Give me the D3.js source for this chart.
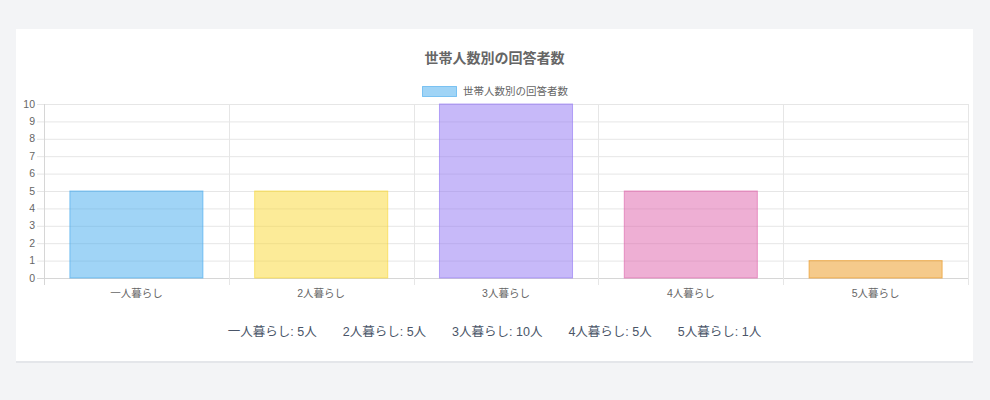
<!DOCTYPE html>
<html>
<head>
<meta charset="utf-8">
<script src="https://cdn.jsdelivr.net/npm/d3@7"></script>
<style>
  html, body { margin: 0; padding: 0; background: #f3f4f6; }
  svg { display: block; font-family: "Liberation Sans", "Noto Sans CJK JP", sans-serif; }
</style>
</head>
<body>
<div id="chart"></div>
<script>
// data
var categories = ["一人暮らし", "2人暮らし", "3人暮らし", "4人暮らし", "5人暮らし"];
var counts = [5, 5, 10, 5, 1];
var yTicks = [0, 1, 2, 3, 4, 5, 6, 7, 8, 9, 10];
var title = "世帯人数別の回答者数";
var unit = "人";

// palette (base colours, drawn at half alpha like the original)
var fills = ["rgb(65,169,237)", "rgb(249,215,49)", "rgb(143,115,243)", "rgb(221,95,169)", "rgb(235,149,23)"];

var width = 990, height = 400;
var plotLeft = 44, plotRight = 968, plotTop = 104, plotBottom = 278;

var svg = d3.select("#chart").append("svg")
  .attr("width", width)
  .attr("height", height);

// card
svg.append("rect")
  .attr("x", 16).attr("y", 30).attr("width", 957).attr("height", 333)
  .attr("fill", "#e4e6ea");
svg.append("rect")
  .attr("x", 16).attr("y", 29).attr("width", 957).attr("height", 332)
  .attr("fill", "#fff");

var x = d3.scaleBand().domain(categories).range([plotLeft, plotRight]).padding(0);
var y = d3.scaleLinear().domain([0, 10]).range([plotBottom, plotTop]);

// horizontal grid + y ticks
svg.append("g").selectAll("line").data(yTicks).enter().append("line")
  .attr("x1", plotLeft - 7).attr("x2", plotRight)
  .attr("y1", function(d){ return y(d) + 0.5; })
  .attr("y2", function(d){ return y(d) + 0.5; })
  .attr("stroke", function(d){ return d === 0 ? "#d6d6d6" : "#e6e6e6"; })
  .attr("stroke-width", 1);

svg.append("g").selectAll("text").data(yTicks).enter().append("text")
  .attr("x", plotLeft - 9)
  .attr("y", function(d){ return y(d); })
  .attr("dy", "0.35em")
  .attr("text-anchor", "end")
  .attr("font-size", 10.5)
  .attr("fill", "#666")
  .text(function(d){ return d; });

// vertical grid at band edges
var edges = categories.map(function(c){ return x(c); }).concat([plotRight]);
svg.append("g").selectAll("line").data(edges).enter().append("line")
  .attr("x1", function(d){ return Math.round(d) + 0.5; })
  .attr("x2", function(d){ return Math.round(d) + 0.5; })
  .attr("y1", plotTop).attr("y2", plotBottom + 7)
  .attr("stroke", function(d, i){ return i === 0 ? "#d6d6d6" : "#e6e6e6"; })
  .attr("stroke-width", 1);

// bars
var barW = x.bandwidth() * 0.72;
svg.append("g").selectAll("rect").data(counts).enter().append("rect")
  .attr("x", function(d, i){ return x(categories[i]) + (x.bandwidth() - barW) / 2; })
  .attr("y", function(d){ return y(d); })
  .attr("width", barW)
  .attr("height", function(d){ return y(0) - y(d); })
  .attr("fill", function(d, i){ return fills[i]; })
  .attr("fill-opacity", 0.5)
  .attr("stroke", function(d, i){ return fills[i]; })
  .attr("stroke-opacity", 0.6)
  .attr("stroke-width", 1);

// x labels
svg.append("g").selectAll("text").data(categories).enter().append("text")
  .attr("x", function(d){ return x(d) + x.bandwidth() / 2; })
  .attr("y", 293)
  .attr("dy", "0.35em")
  .attr("text-anchor", "middle")
  .attr("font-size", 10.5)
  .attr("fill", "#666")
  .text(function(d){ return d; });

// title
svg.append("text")
  .attr("x", 494.5).attr("y", 58).attr("dy", "0.35em")
  .attr("text-anchor", "middle")
  .attr("font-size", 14).attr("font-weight", "bold")
  .attr("fill", "#666")
  .text(title);

// legend
svg.append("rect")
  .attr("x", 422.5).attr("y", 86.5).attr("width", 34).attr("height", 10)
  .attr("fill", fills[0]).attr("fill-opacity", 0.5)
  .attr("stroke", fills[0]).attr("stroke-opacity", 0.6);
svg.append("text")
  .attr("x", 463).attr("y", 91).attr("dy", "0.35em")
  .attr("font-size", 10.5).attr("fill", "#666")
  .text(title);

// summary line under the chart
var summary = svg.append("g");
var items = summary.selectAll("text").data(categories).enter().append("text")
  .attr("y", 332).attr("dy", "0.35em")
  .attr("font-size", 12.5)
  .attr("fill", "#4a5568")
  .text(function(d, i){ return d + ": " + counts[i] + unit; });

var gap = 26, widths = [];
items.each(function(){ widths.push(this.getComputedTextLength()); });
var total = d3.sum(widths) + gap * (widths.length - 1);
var cx = 494.5 - total / 2;
items.attr("x", function(d, i){
  var pos = cx;
  cx += widths[i] + gap;
  return pos;
});
</script>
</body>
</html>
